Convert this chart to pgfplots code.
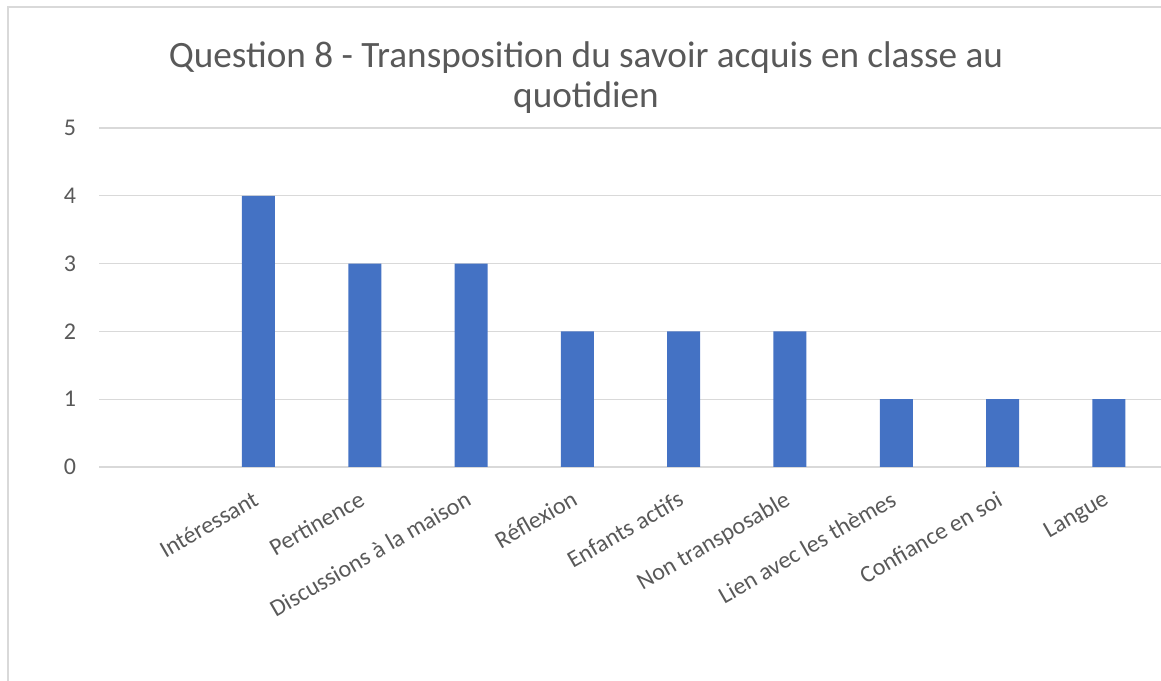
\documentclass[border=0pt]{standalone}
\usepackage{pgfplots}
\pgfplotsset{compat=1.18}
\usepackage{fontspec}
\setmainfont{Carlito}
\definecolor{barblue}{HTML}{4472C4}
\definecolor{gridgray}{HTML}{D9D9D9}
\definecolor{txtgray}{HTML}{595959}
\begin{document}
\begin{tikzpicture}
\useasboundingbox (0,0) rectangle (580.5pt,340pt);
\draw[gridgray, line width=0.8pt] (4pt,-5pt) -- (4pt,336.5pt) -- (600pt,336.5pt);
\node[font=\fontsize{18.6}{22}\selectfont, text=txtgray, anchor=base] at (293pt,306pt) {Question 8 - Transposition du savoir acquis en classe au};
\node[font=\fontsize{18.6}{22}\selectfont, text=txtgray, anchor=base] at (293pt,286pt) {quotidien};
\begin{axis}[
  at={(49.5pt,106.5pt)}, anchor=south west,
  scale only axis, width=531.5pt, height=169.5pt,
  xmin=-0.5, xmax=9.5, ymin=0, ymax=5,
  xtick={0,...,9},
  xticklabels={,Intéressant,Pertinence,Discussions à la maison,Réflexion,Enfants actifs,Non transposable,Lien avec les thèmes,Confiance en soi,Langue},
  ytick={0,1,2,3,4,5},
  ymajorgrids, grid style={gridgray, line width=0.6pt},
  axis x line*=bottom, axis y line*=left,
  x axis line style={gridgray, line width=0.6pt, -},
  y axis line style={draw=none},
  major tick length=0pt,
  tick label style={font=\fontsize{12}{14}\selectfont, text=txtgray},
  x tick label style={rotate=30, anchor=north east, inner sep=1pt, yshift=-7pt, xshift=-7.5pt},
  y tick label style={xshift=-8pt},
  /pgf/number format/assume math mode=true,
  clip=false,
]
\addplot[ybar, bar width=16.5pt, fill=barblue, draw=none] coordinates {
(1,4) (2,3) (3,3) (4,2) (5,2) (6,2) (7,1) (8,1) (9,1)};
\end{axis}
\end{tikzpicture}
\end{document}
